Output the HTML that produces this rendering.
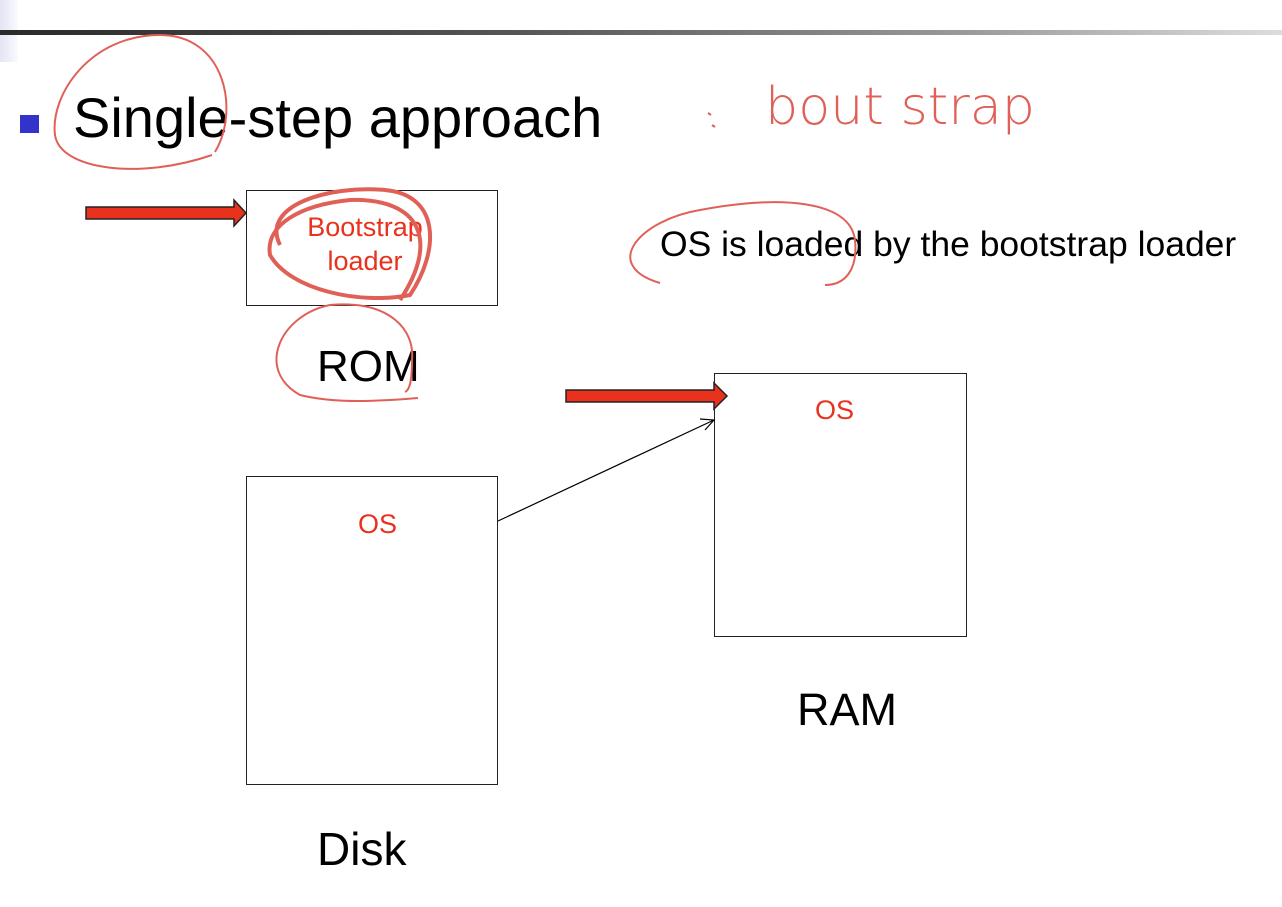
<!DOCTYPE html>
<html><head><style>
body{margin:0;width:1282px;height:907px;background:#fff;overflow:hidden;font-family:"Liberation Sans",sans-serif;position:relative}
.t{position:absolute;white-space:nowrap}
.box{position:absolute;border:1.5px solid #222;box-sizing:border-box}
</style></head><body>
<div style="position:absolute;left:0;top:0;width:18px;height:62px;background:linear-gradient(90deg,#e4e4f4,#fafaff)"></div>
<div style="position:absolute;left:0;top:30px;width:1282px;height:5px;background:linear-gradient(90deg,#2a2a2a,#555 40%,#999 75%,#ddd)"></div>
<div style="position:absolute;left:20px;top:115px;width:19px;height:18px;background:#3333cc"></div>
<div class="t" style="left:73px;top:85px;font-size:56px;color:#000">Single-step approach</div>
<div class="box" style="left:246px;top:190px;width:252px;height:116px"></div>
<div class="t" style="left:295px;top:210px;width:140px;text-align:center;font-size:27px;line-height:34px;color:#e8321e">Bootstrap<br>loader</div>
<div class="t" style="left:317px;top:342px;font-size:44px">ROM</div>
<div class="t" style="left:660px;top:224px;font-size:35.5px">OS is loaded by the bootstrap loader</div>
<div class="box" style="left:714px;top:373px;width:253px;height:264px"></div>
<div class="t" style="left:815px;top:395px;font-size:27px;color:#e8321e">OS</div>
<div class="t" style="left:797px;top:684px;font-size:45px">RAM</div>
<div class="box" style="left:246px;top:476px;width:252px;height:309px"></div>
<div class="t" style="left:358px;top:509px;font-size:27px;color:#e8321e">OS</div>
<div class="t" style="left:317px;top:822px;font-size:46px">Disk</div>
<svg width="1282" height="907" style="position:absolute;left:0;top:0">
<polygon points="86,207 234,207 234,200 246,213 234,226 234,219 86,219" fill="#e8321e" stroke="#222" stroke-width="1.5"/>
<polygon points="566,390 714,390 714,383 727,396 714,409 714,402 566,402" fill="#e8321e" stroke="#222" stroke-width="1.5"/>
<line x1="498" y1="521" x2="714" y2="420" stroke="#000" stroke-width="1.2"/>
<polyline points="700,419 714,420 705,430" fill="none" stroke="#000" stroke-width="1.2"/>
<g fill="none" stroke="#e06058" stroke-width="2">
<path d="M215,152 C240,110 225,35 160,35 C90,35 50,95 55,135 C60,170 140,180 212,155"/>
<path d="M660,283 C600,265 640,220 700,210 C780,195 850,200 855,240 C858,270 845,285 825,285"/>
<path d="M280,245 C260,205 330,185 385,190 C440,195 440,250 410,295 C360,305 290,290 270,255 C265,225 300,205 350,200 C420,198 440,240 400,300" stroke-width="4"/>
<path d="M330,305 C280,315 255,370 300,395 C340,405 390,400 418,398 M330,305 C390,300 415,330 412,360 C412,380 410,390 405,392"/>
<path d="M708,113 l3,2 M712,125 l3,2"/>
</g>
<text x="765" y="124" font-family="DejaVu Sans,sans-serif" font-size="52" font-weight="200" fill="#e06058" textLength="270" lengthAdjust="spacingAndGlyphs">bout strap</text>
</svg>
</body></html>
